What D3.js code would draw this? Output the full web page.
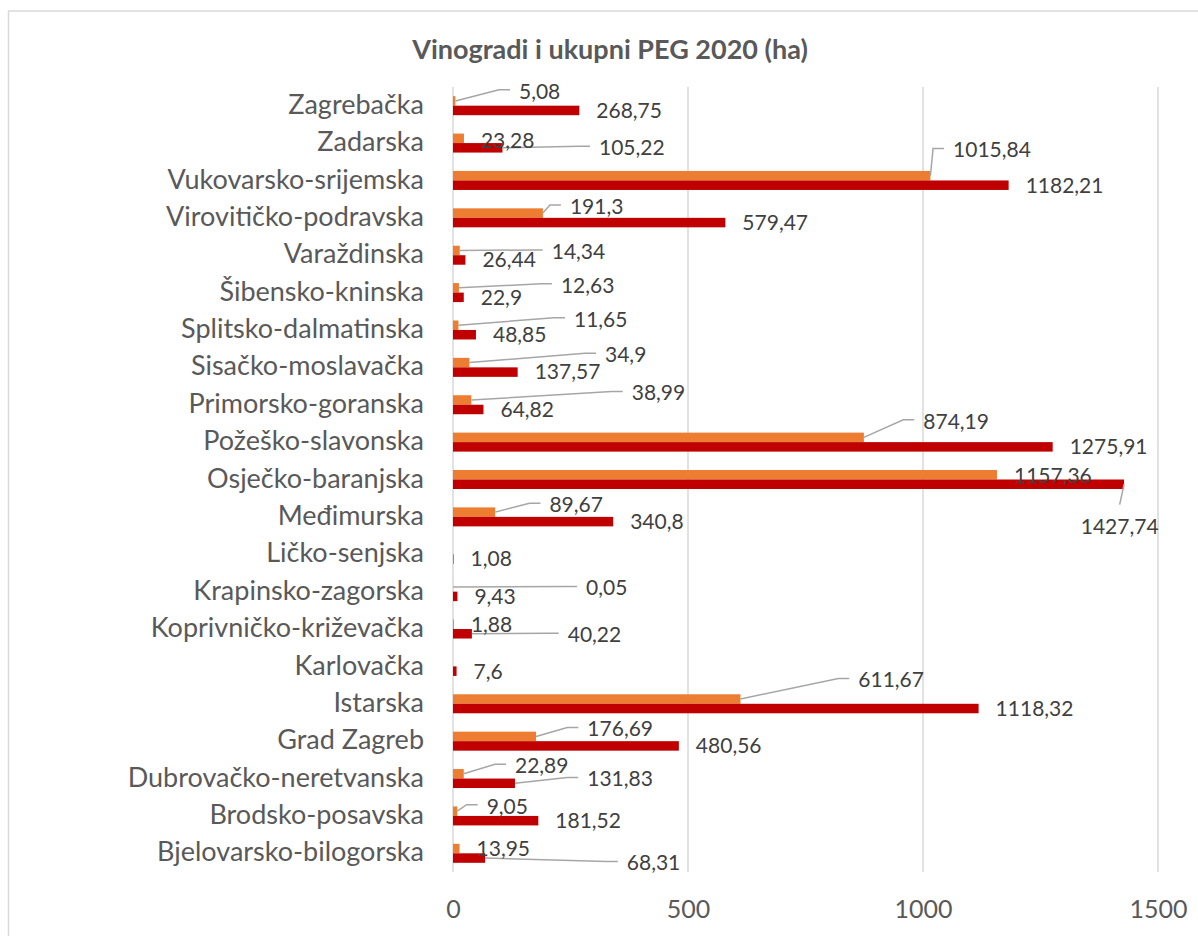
<!DOCTYPE html>
<html>
<head>
<meta charset="utf-8">
<script src="https://cdn.jsdelivr.net/npm/d3@7"></script>
<style>
  body { margin: 0; background: #ffffff; }
  text { font-family: Lato, "Open Sans", sans-serif; }
</style>
</head>
<body>
<svg id="bar-chart-vinogradi" width="1198" height="936"></svg>
<script>
// ---------------- data -----------------
const categories = [
    "Zagrebačka", "Zadarska", "Vukovarsko-srijemska", "Virovitičko-podravska",
    "Varaždinska", "Šibensko-kninska", "Splitsko-dalmatinska", "Sisačko-moslavačka",
    "Primorsko-goranska", "Požeško-slavonska", "Osječko-baranjska", "Međimurska",
    "Ličko-senjska", "Krapinsko-zagorska", "Koprivničko-križevačka", "Karlovačka",
    "Istarska", "Grad Zagreb", "Dubrovačko-neretvanska", "Brodsko-posavska",
    "Bjelovarsko-bilogorska"
];
const vinogradi = [5.08, 23.28, 1015.84, 191.3, 14.34, 12.63, 11.65, 34.9, 38.99, 874.19,
    1157.36, 89.67, null, 0.05, 1.88, null, 611.67, 176.69, 22.89, 9.05, 13.95];
const ukupniPeg = [268.75, 105.22, 1182.21, 579.47, 26.44, 22.9, 48.85, 137.57, 64.82, 1275.91,
    1427.74, 340.8, 1.08, 9.43, 40.22, 7.6, 1118.32, 480.56, 131.83, 181.52, 68.31];
const xTicks = [0, 500, 1000, 1500];
const title = "Vinogradi i ukupni PEG 2020 (ha)";

// label nudges (dx, dy, leader type) where labels were dragged away in the original
const vinogradiLabelShift = [
    [46.6, -9.6, "L"], [0, 2, null], [5.6, -25.6, "L"], [10, -6.5, "L"], [75, 1, "L"],
    [85, -2.5, "L"], [98.5, -6, "L"], [118.6, -7.8, "L"], [143.4, -7, "L"], [42.4, -16, "L"],
    [0, 1, null], [37.3, -7.3, "L"], null, [116, 1, "L"], [0, 0, null],
    null, [100.8, -19, "L"], [34.3, -7.5, "L"], [34.2, -8, "L"], [12.4, -5, "L"],
    [0, 0, null]
];
const pegLabelShift = categories.map(() => [0, 0, null]);
pegLabelShift[1] = [79.5, 0, "L"];
pegLabelShift[10] = [-60.3, 42.3, "T"];
pegLabelShift[14] = [78.8, 1, "L"];
pegLabelShift[18] = [55.3, -4.3, "L"];
pegLabelShift[20] = [124.7, 5, "L"];

// ---------------- chart -----------------
const svg = d3.select("#bar-chart-vinogradi"),
    width = +svg.attr("width"),
    height = +svg.attr("height"),
    plot = { left: 453, right: 1158, top: 87, bottom: 872 };

// outer frame
svg.append("rect")
    .attr("x", 8.5)
    .attr("y", 11)
    .attr("width", width + 20)
    .attr("height", height + 20)
    .attr("fill", "#ffffff")
    .attr("stroke", "#d9d9d9")
    .attr("stroke-width", 1.5);

const x = d3.scaleLinear()
    .domain([0, 1500])
    .range([plot.left, plot.right]);

const y = d3.scaleBand()
    .domain(categories)
    .range([plot.top, plot.bottom]);

const barH = 9.5;
const fmt = v => String(v).replace(".", ",");

// gridlines
svg.append("g")
    .selectAll("line")
    .data(xTicks)
    .join("line")
    .attr("x1", d => x(d))
    .attr("x2", d => x(d))
    .attr("y1", plot.top)
    .attr("y2", plot.bottom)
    .attr("stroke", "#d9d9d9")
    .attr("stroke-width", 1.5);

// x axis (labels only)
const xAxis = svg.append("g")
    .attr("transform", `translate(0,${plot.bottom})`)
    .call(d3.axisBottom(x).tickValues(xTicks).tickSize(0).tickPadding(28).tickFormat(d => d));
xAxis.select(".domain").remove();
xAxis.selectAll("text")
    .style("font-size", "25px")
    .style("fill", "#595959");

// y axis (labels only)
const yAxis = svg.append("g")
    .attr("transform", `translate(${plot.left},0)`)
    .call(d3.axisLeft(y).tickSize(0).tickPadding(29));
yAxis.select(".domain").remove();
yAxis.selectAll("text")
    .attr("dy", "0.3em")
    .style("font-size", "27px")
    .style("fill", "#595959");

// title
svg.append("text")
    .attr("x", 610)
    .attr("y", 59)
    .attr("text-anchor", "middle")
    .style("font-size", "27px")
    .style("font-weight", "bold")
    .style("fill", "#595959")
    .text(title);

// bars
const series = [
    { key: "Vinogradi", values: vinogradi, color: "#ed7d31", off: -barH, shift: vinogradiLabelShift },
    { key: "Ukupni PEG", values: ukupniPeg, color: "#c00000", off: 0, shift: pegLabelShift }
];

const rows = [];
series.forEach(s => {
    categories.forEach((c, i) => {
        if (s.values[i] == null) return;
        rows.push({ cat: c, value: s.values[i], color: s.color, off: s.off, shift: s.shift[i] });
    });
});

svg.append("g")
    .selectAll("rect")
    .data(rows)
    .join("rect")
    .attr("x", x(0))
    .attr("y", d => y(d.cat) + y.bandwidth() / 2 + d.off)
    .attr("width", d => x(d.value) - x(0))
    .attr("height", barH)
    .attr("fill", d => d.color);

// data labels + leader lines
const labels = svg.append("g");
const leaders = labels.append("g");

rows.forEach(d => {
    const endX = x(d.value),
        barY = y(d.cat) + y.bandwidth() / 2 + d.off + barH / 2,
        lx = endX + 17 + d.shift[0],
        ly = barY + d.shift[1];

    const t = labels.append("text")
        .attr("x", lx)
        .attr("y", ly)
        .attr("dy", "0.35em")
        .style("font-size", "21px")
        .style("fill", "#404040")
        .text(fmt(d.value));

    let pts = null;
    if (d.shift[2] === "L") {
        const ey = ly - 1.5;
        pts = [[endX, barY], [lx - 20, ey], [lx - 9, ey]];
    } else if (d.shift[2] === "T") {
        const w = t.node().getComputedTextLength();
        pts = [[endX, barY], [lx + w / 2, ly - 22]];
    }
    if (pts) {
        leaders.append("path")
            .attr("d", d3.line()(pts))
            .attr("fill", "none")
            .attr("stroke", "#a6a6a6")
            .attr("stroke-width", 1.5);
    }
});
</script>
</body>
</html>
